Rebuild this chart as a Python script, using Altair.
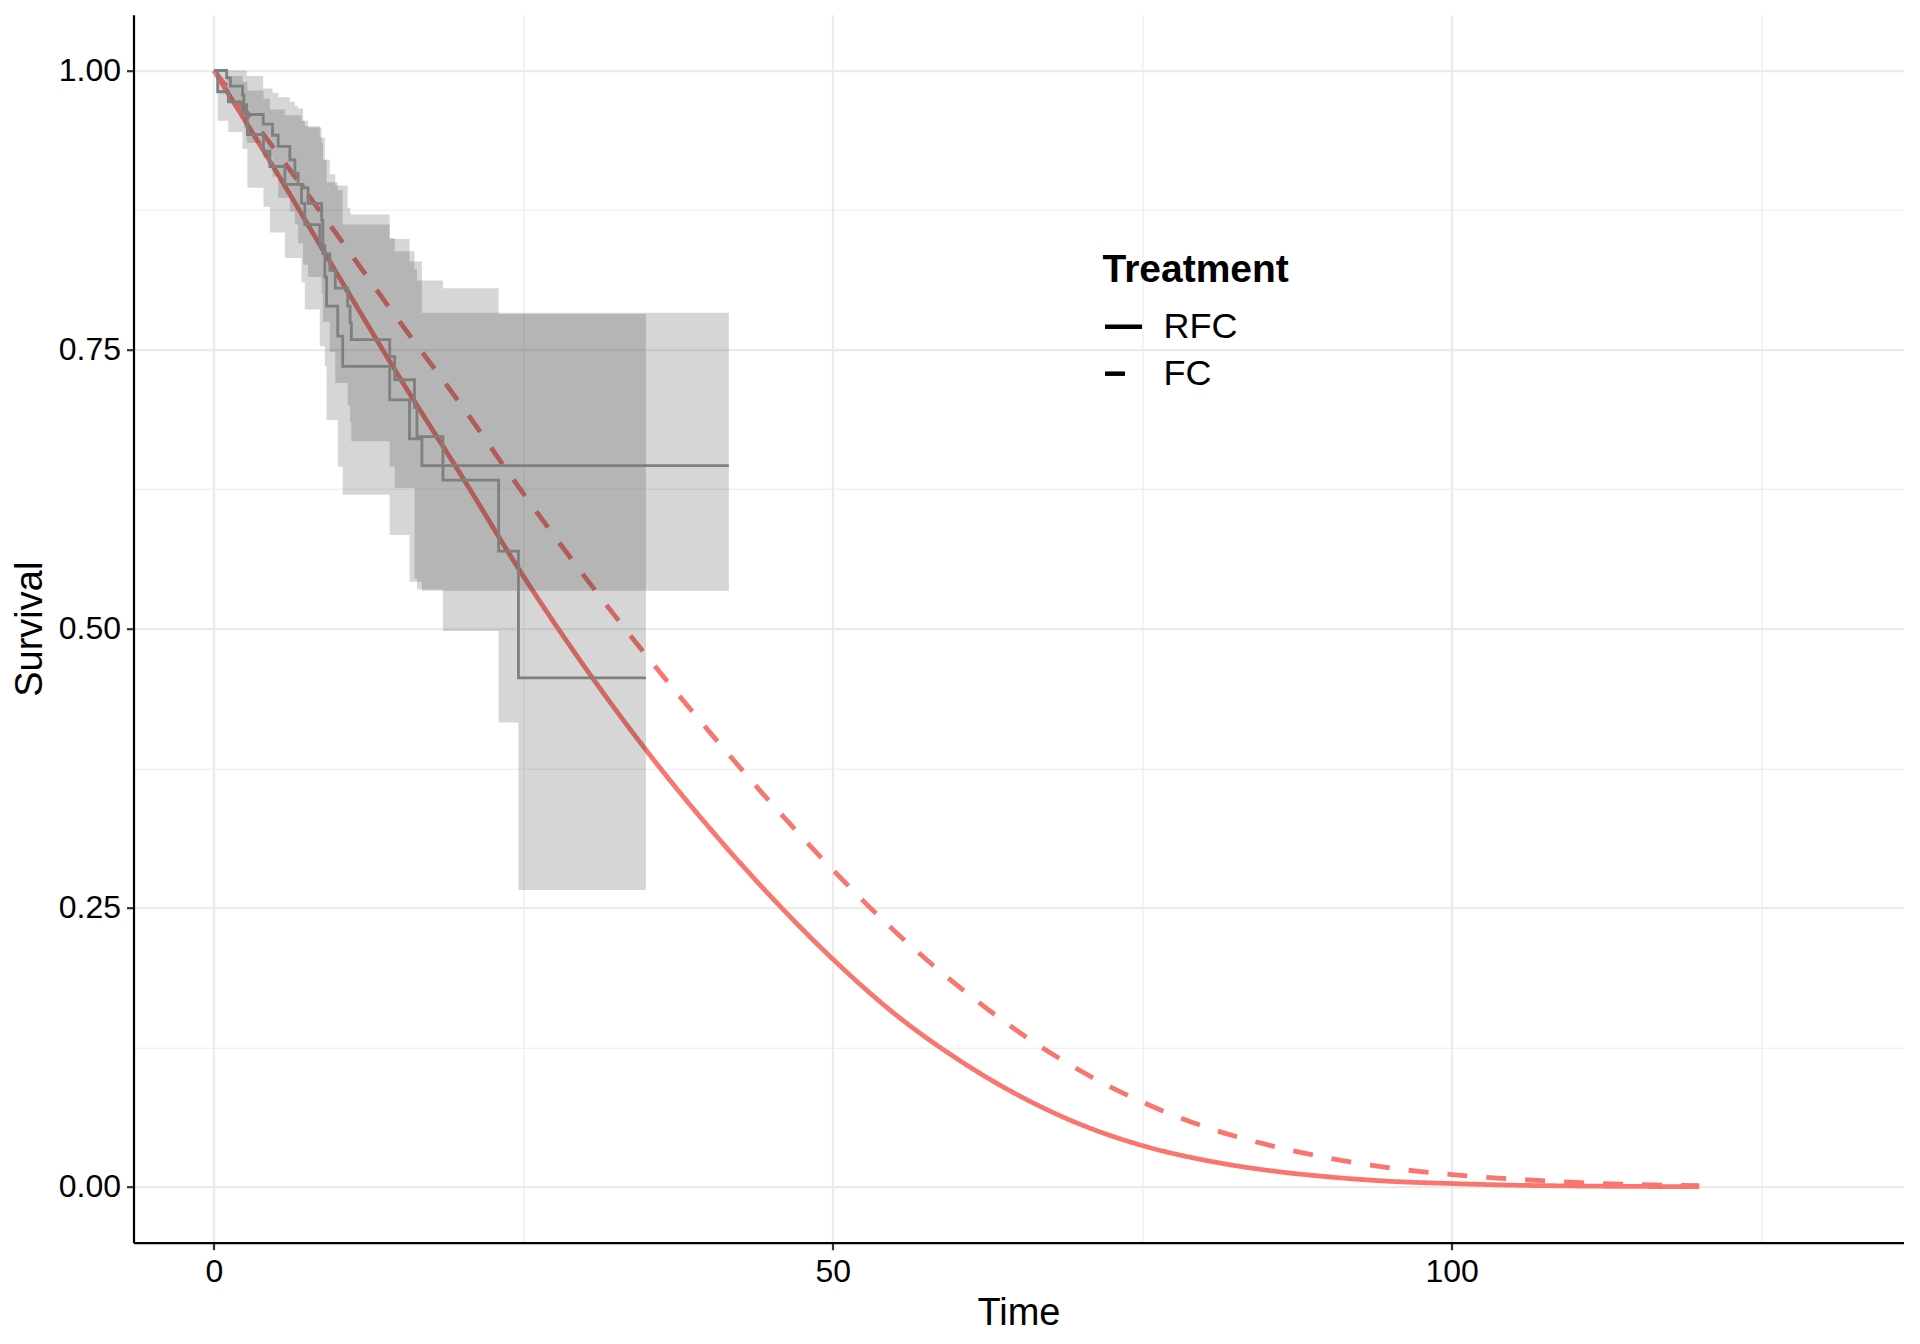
import altair as alt
import pandas as pd

# ---- fitted parametric survival curves (red) ----
fit_time = [0, 5, 10, 15, 20, 25, 30, 35, 40, 45, 50, 55, 60, 65, 70, 75, 80, 85, 90, 95, 100, 105, 110, 115, 120]
fit_rfc = [1.000, 0.910, 0.817, 0.725, 0.637, 0.547, 0.465, 0.390, 0.322, 0.260, 0.204, 0.155, 0.115, 0.082,
           0.056, 0.037, 0.024, 0.015, 0.009, 0.005, 0.003, 0.0015, 0.0008, 0.0004, 0.0002]
fit_fc = [1.000, 0.928, 0.852, 0.775, 0.700, 0.621, 0.546, 0.475, 0.408, 0.344, 0.284, 0.229, 0.181, 0.139,
          0.104, 0.076, 0.054, 0.038, 0.026, 0.017, 0.011, 0.007, 0.004, 0.002, 0.001]

# ---- Kaplan-Meier group 1 ----
km1_time = [0, 1.02, 1.33, 2.31, 2.42, 2.64, 3.98, 4.73, 5.19, 6.13, 6.54, 6.8, 7.2, 7.6, 8.7, 8.8, 9.36, 9.8,
            10.8, 11.0, 11.1, 14.2, 14.6, 16.2, 16.4, 18.5, 23.0, 24.6, 34.9]
km1_surv = [1.0, 0.9934, 0.986, 0.978, 0.9695, 0.9606, 0.952, 0.942, 0.932, 0.920, 0.908, 0.898, 0.895, 0.881,
            0.866, 0.836, 0.821, 0.805, 0.789, 0.774, 0.759, 0.7437, 0.723, 0.698, 0.672, 0.633, 0.5695, 0.456, 0.456]
km1_lower = [1.0, 0.980, 0.972, 0.960, 0.948, 0.935, 0.922, 0.905, 0.886, 0.874, 0.862, 0.845, 0.826, 0.815,
             0.800, 0.775, 0.748, 0.720, 0.700, 0.685, 0.668, 0.645, 0.626, 0.545, 0.535, 0.498, 0.416, 0.266, 0.266]
km1_upper = [1.0, 1.0, 1.0, 1.0, 1.0, 0.995, 0.984, 0.980, 0.976, 0.972, 0.968, 0.966, 0.955, 0.949,
             0.935, 0.920, 0.907, 0.897, 0.877, 0.872, 0.871, 0.850, 0.838, 0.822, 0.812, 0.805, 0.782, 0.782, 0.782]

# ---- Kaplan-Meier group 2 ----
km2_time = [0, 0.3, 1.16, 2.3, 2.7, 4.0, 4.52, 5.73, 7.07, 7.34, 8.55, 8.96, 9.1, 10.0, 10.4, 14.2, 15.8, 16.8, 41.6]
km2_surv = [1.0, 0.981, 0.972, 0.962, 0.9427, 0.9277, 0.914, 0.898, 0.881, 0.862, 0.843, 0.815, 0.789, 0.762,
            0.735, 0.705, 0.670, 0.646, 0.646]
km2_lower = [1.0, 0.955, 0.945, 0.930, 0.895, 0.878, 0.855, 0.832, 0.810, 0.786, 0.753, 0.735, 0.687, 0.645,
             0.620, 0.584, 0.542, 0.534, 0.534]
km2_upper = [1.0, 1.0, 0.995, 0.990, 0.982, 0.975, 0.965, 0.960, 0.955, 0.950, 0.940, 0.920, 0.900, 0.893,
             0.862, 0.849, 0.829, 0.783, 0.783]

treatments = ["RFC", "FC"]

fit_df = pd.concat([
    pd.DataFrame({"Time": fit_time, "Survival": fit_rfc, "Treatment": "RFC"}),
    pd.DataFrame({"Time": fit_time, "Survival": fit_fc, "Treatment": "FC"}),
])
km_df = pd.concat([
    pd.DataFrame({"Time": km1_time, "Survival": km1_surv, "lo": km1_lower, "hi": km1_upper, "grp": "RFC"}),
    pd.DataFrame({"Time": km2_time, "Survival": km2_surv, "lo": km2_lower, "hi": km2_upper, "grp": "FC"}),
])

FONT = "Liberation Sans"

x_scale = alt.Scale(domain=[-6.5, 136.5], nice=False, zero=False)
y_scale = alt.Scale(domain=[-0.05, 1.05], nice=False, zero=False)

x_axis = alt.Axis(
    title="Time",
    values=[0, 25, 50, 75, 100, 125],
    labelExpr="datum.value % 50 === 0 ? datum.label : ''",
    gridWidth={"condition": {"test": "datum.value % 50 === 0", "value": 2.2}, "value": 1.1},
    tickOpacity={"condition": {"test": "datum.value % 50 === 0", "value": 1}, "value": 0},
    labelPadding=7,
    titlePadding=7,
)
y_axis = alt.Axis(
    title="Survival",
    values=[0, 0.125, 0.25, 0.375, 0.5, 0.625, 0.75, 0.875, 1.0],
    labelExpr="round(datum.value * 1000) % 250 === 0 ? format(datum.value, '.2f') : ''",
    gridWidth={"condition": {"test": "round(datum.value * 1000) % 250 === 0", "value": 2.2}, "value": 1.1},
    tickOpacity={"condition": {"test": "round(datum.value * 1000) % 250 === 0", "value": 1}, "value": 0},
    labelPadding=6,
    titlePadding=9,
)

curves = alt.Chart(fit_df).mark_line(color="#F8766D", strokeWidth=4.8, interpolate="monotone").encode(
    x=alt.X("Time:Q", scale=x_scale, axis=x_axis),
    y=alt.Y("Survival:Q", scale=y_scale, axis=y_axis),
    strokeDash=alt.StrokeDash(
        "Treatment:N",
        scale=alt.Scale(domain=treatments, range=[[1, 0], [20, 19]]),
        legend=alt.Legend(
            title="Treatment",
            orient="none",
            legendX=969,
            legendY=236,
            titleFontSize=39,
            titleFontWeight="bold",
            titleColor="black",
            titleFont=FONT,
            titlePadding=16,
            titleLimit=600,
            labelFontSize=36,
            labelFont=FONT,
            labelColor="black",
            labelOffset=19,
            labelLimit=400,
            symbolType="stroke",
            symbolSize=1369,
            symbolStrokeWidth=4.5,
            symbolStrokeColor="black",
            rowPadding=8,
            padding=0,
        ),
    ),
    order=alt.Order("Time:Q"),
)

ribbons = alt.Chart(km_df).mark_area(interpolate="step-after", color="#333333", opacity=0.2).encode(
    x=alt.X("Time:Q", scale=x_scale),
    y=alt.Y("lo:Q", scale=y_scale),
    y2="hi:Q",
    detail="grp:N",
)

steps = alt.Chart(km_df).mark_line(interpolate="step-after", color="#7F7F7F", strokeWidth=2.8).encode(
    x=alt.X("Time:Q", scale=x_scale),
    y=alt.Y("Survival:Q", scale=y_scale),
    detail="grp:N",
    order=alt.Order("Time:Q"),
)

chart = alt.layer(curves, ribbons, steps).properties(
    width=1770,
    height=1228,
    autosize=alt.AutoSizeParams(type="none"),
    padding={"left": 125.5, "top": 6.7, "right": 8, "bottom": 100},
).configure_view(stroke=None).configure_axis(
    domainColor="black",
    domainWidth=2.2,
    tickColor="#333333",
    tickWidth=2.2,
    tickSize=7,
    gridColor="#EBEBEB",
    labelFont=FONT,
    labelFontSize=32,
    labelColor="black",
    titleFont=FONT,
    titleFontSize=38,
    titleFontWeight="normal",
    titleColor="black",
)

chart.save("out.html", embed_options={"renderer": "svg", "actions": False})
